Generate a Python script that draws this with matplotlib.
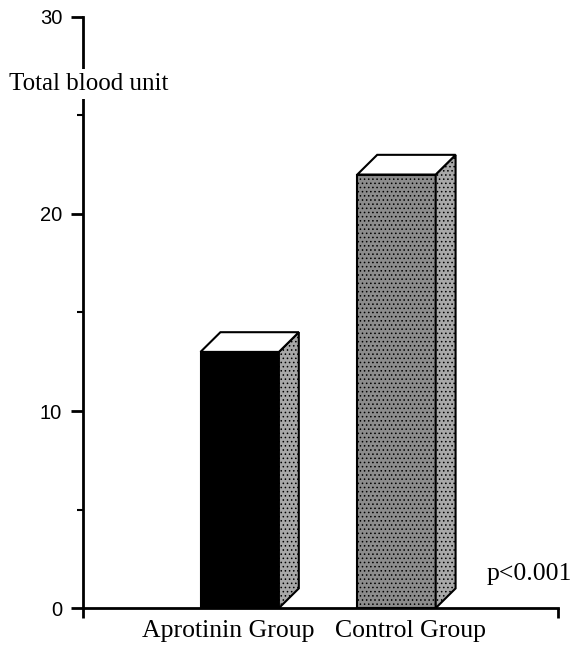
import matplotlib
matplotlib.use("Agg")
import matplotlib.pyplot as plt
from matplotlib.patches import Polygon

# data
groups = ["Aprotinin Group", "Control Group"]
blood_units = [13, 22]
y_ticks = [0, 10, 20, 30]
y_minor = [5, 15, 25]

serif = ["Liberation Serif", "DejaVu Serif"]
sans = ["Liberation Sans", "DejaVu Sans"]

plt.rcParams["hatch.color"] = "#5a5a5a"
plt.rcParams["hatch.linewidth"] = 0.6

fig = plt.figure(figsize=(5.8, 6.49), dpi=100)
ax = fig.add_axes([0.143, 0.063, 0.819, 0.911])

x_pos = list(range(len(groups)))
width = 0.5
dx, dy = 0.127, 1.0

front_colors = ["black", "#8c8c8c"]
bars = ax.bar(x_pos, blood_units, width=width, color=front_colors,
              edgecolor="black", linewidth=1.5, zorder=3)
bars[1].set_hatch("....")

for x, h in zip(x_pos, blood_units):
    l, r = x - width / 2, x + width / 2
    top = Polygon([(l, h), (l + dx, h + dy), (r + dx, h + dy), (r, h)],
                  closed=True, facecolor="white", edgecolor="black",
                  linewidth=1.5, zorder=3)
    side = Polygon([(r, 0), (r + dx, dy), (r + dx, h + dy), (r, h)],
                   closed=True, facecolor="#a8a8a8", edgecolor="black",
                   linewidth=1.5, hatch="....", zorder=3)
    ax.add_patch(side)
    ax.add_patch(top)

ax.set_xlim(-1.0, 2.03)
ax.set_ylim(0, 30)

for s in ["top", "right"]:
    ax.spines[s].set_visible(False)
for s in ["left", "bottom"]:
    ax.spines[s].set_linewidth(2)

ax.set_yticks(y_ticks)
ax.set_yticks(y_minor, minor=True)
ax.set_yticklabels([str(t) for t in y_ticks], fontsize=14.5, family=sans)
ax.tick_params(axis="y", which="major", length=9, width=2, direction="out", pad=6)
ax.tick_params(axis="y", which="minor", length=4, width=1.5, direction="out")

ax.set_xticks([-1.0, 2.03])
ax.set_xticklabels(["", ""])
ax.tick_params(axis="x", which="major", length=7, width=2, direction="out")

ax.text(-1.47, 26.6, "Total blood unit", fontsize=18, family=serif,
        ha="left", va="center", clip_on=False, zorder=5,
        bbox=dict(facecolor="white", edgecolor="none", pad=3))

label_x = [-0.07, 1.09]
for lx, g in zip(label_x, groups):
    ax.text(lx, -1.15, g, fontsize=18.5, family=serif, ha="center",
            va="center", clip_on=False)

ax.text(1.85, 1.75, "p<0.001", fontsize=18.5, family=serif, ha="center",
        va="center")

fig.savefig("out.png", dpi=100)
